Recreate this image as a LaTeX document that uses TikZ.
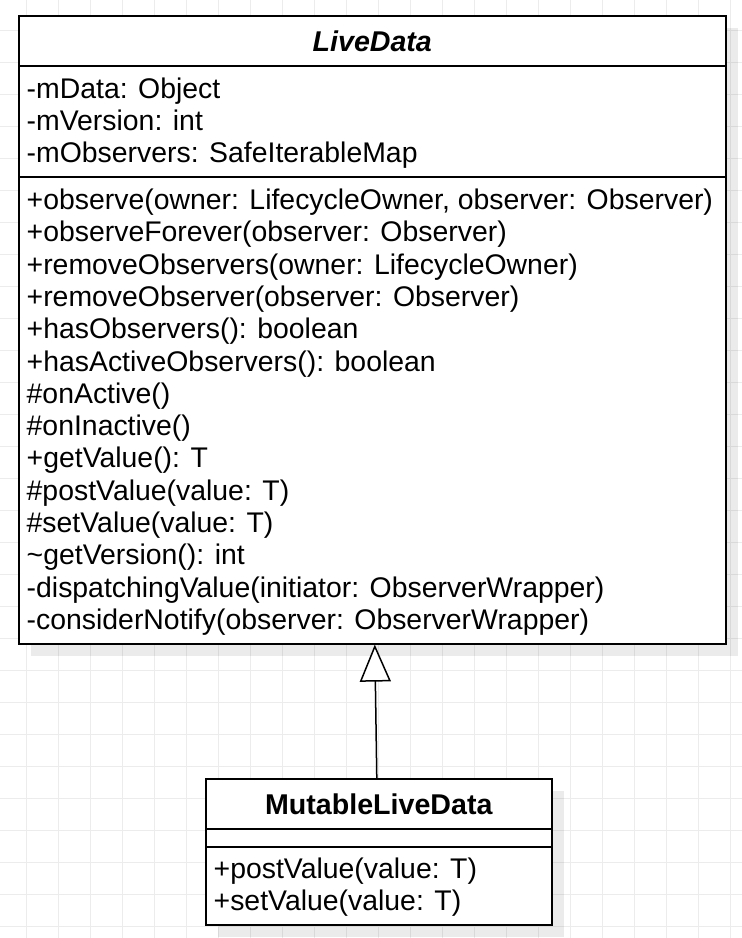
\documentclass[tikz,border=0pt]{standalone}
\usepackage{fontspec}
\setmainfont{Liberation Sans}
\usetikzlibrary{arrows.meta, shadows}

\tikzset{
  classbox/.style={draw, line width=1.6pt, fill=white, inner sep=0pt,
    drop shadow={shadow xshift=12pt, shadow yshift=-12pt, fill=black, opacity=0.08}},
  divider/.style={line width=1.6pt},
  member/.style={anchor=base west, inner sep=0pt, font=\fontsize{28.4}{32.3}\selectfont},
  classname/.style={inner sep=0pt, font=\fontsize{28.6}{32.3}\selectfont\bfseries},
  extends/.style={line width=1.5pt, -{Triangle[open, length=37pt, width=31pt, fill=white]}},
  gridline/.style={gray!15, line width=1pt},
}

\begin{document}
\begin{tikzpicture}[x=1pt, y=-1pt]
  \useasboundingbox (0,0) rectangle (742,938);
  \fill[white] (0,0) rectangle (742,938);

  % background grid
  \foreach \gx in {26,58,...,730} \draw[gridline] (\gx,0) -- (\gx,938);
  \foreach \gy in {30,62,...,926} \draw[gridline] (0,\gy) -- (742,\gy);

  % classes
  \node[classbox, anchor=north west, minimum width=707pt, minimum height=628pt] (livedata) at (18,15) {};
  \node[classbox, anchor=north west, minimum width=346pt, minimum height=146pt] (mutable) at (205,778) {};

  % compartments
  \draw[divider] ([yshift=-51pt]livedata.north west) -- ([yshift=-51pt]livedata.north east);
  \draw[divider] ([yshift=-162pt]livedata.north west) -- ([yshift=-162pt]livedata.north east);
  \draw[divider] ([yshift=-51pt]mutable.north west) -- ([yshift=-51pt]mutable.north east);
  \draw[divider] ([yshift=-69pt]mutable.north west) -- ([yshift=-69pt]mutable.north east);

  % class names
  \node[classname] (livedataname) at ([yshift=-26pt]livedata.north) {\textit{LiveData}};
  \node[classname] (mutablename) at ([yshift=-26pt]mutable.north) {MutableLiveData};

  % fields
  \foreach \txt [count=\i from 0] in {-mData: Object, -mVersion: int, -mObservers: SafeIterableMap}
    \node[member] (livefield\i) at (26.5,{98+32.3*\i}) {\txt};

  % operations
  \foreach \txt [count=\i from 0] in {
      {+observe(owner: LifecycleOwner, observer: Observer)},
      +observeForever(observer: Observer),
      +removeObservers(owner: LifecycleOwner),
      +removeObserver(observer: Observer),
      +hasObservers(): boolean,
      +hasActiveObservers(): boolean,
      \#onActive(),
      \#onInactive(),
      +getValue(): T,
      \#postValue(value: T),
      \#setValue(value: T),
      \textasciitilde getVersion(): int,
      -dispatchingValue(initiator: ObserverWrapper),
      -considerNotify(observer: ObserverWrapper)}
    \node[member] (liveop\i) at (26.5,{209.5+32.3*\i}) {\txt};

  \foreach \txt [count=\i from 0] in {+postValue(value: T), +setValue(value: T)}
    \node[member] (mutableop\i) at (213.5,{878.5+32.3*\i}) {\txt};

  % generalization
  \draw[extends] ([xshift=-2pt]mutable.north) -- ([xshift=2.5pt]livedata.south);
\end{tikzpicture}
\end{document}
